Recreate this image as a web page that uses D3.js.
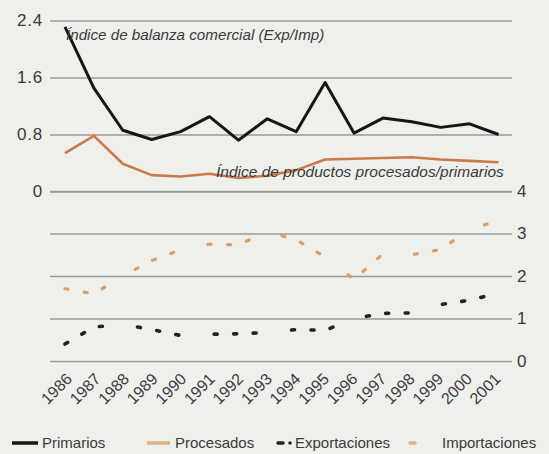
<!DOCTYPE html>
<html><head><meta charset="utf-8">
<script src="https://cdn.jsdelivr.net/npm/d3@7/dist/d3.min.js"></script>
<style>
html,body{margin:0;padding:0;background:#efefec;}
svg{display:block;font-family:"Liberation Sans",Arial,sans-serif;}
</style></head>
<body><svg id="c" width="549" height="454"></svg>
<script>
const years = [1986,1987,1988,1989,1990,1991,1992,1993,1994,1995,1996,1997,1998,1999,2000,2001];
const primarios = [2.31,1.45,0.86,0.73,0.84,1.05,0.72,1.02,0.84,1.53,0.82,1.03,0.98,0.90,0.95,0.80];
const procesados = [0.54,0.78,0.39,0.23,0.21,0.25,0.19,0.22,0.30,0.45,0.46,0.47,0.48,0.45,0.43,0.41];
const exportaciones = [0.40,0.80,0.86,0.74,0.60,0.63,0.64,0.67,0.74,0.72,1.00,1.12,1.13,1.33,1.43,1.60];
const importaciones = [1.70,1.58,2.00,2.36,2.62,2.75,2.73,3.05,2.85,2.45,1.92,2.52,2.50,2.62,3.10,3.30];
const topTicks = [0,0.8,1.6,2.4];
const bottomTicks = [0,1,2,3,4];
const seriesNames = ["Primarios","Procesados","Exportaciones","Importaciones"];
const annotTop = "Índice de balanza comercial (Exp/Imp)";
const annotMid = "Índice de productos procesados/primarios";

const svg = d3.select("#c");
const L = 50, R = 512;
const x = d3.scalePoint(years, [65, 498.5]);
const xl = d3.scalePoint(years, [72.5, 501]);
const yTop = d3.scaleLinear([0, 2.4], [191.5, 20.5]);
const yBot = d3.scaleLinear([0, 4], [361, 191]);
const grid = "#9a9a98", txt = "#3a3a3a";

// left axis + gridlines
const ga = svg.append("g").attr("transform", `translate(${L},0)`)
  .call(d3.axisLeft(yTop).tickValues(topTicks).tickSizeInner(-(R-L)).tickSizeOuter(0).tickPadding(7).tickFormat(d=>d===0?"0":d3.format(".1f")(d)));
ga.select(".domain").remove();
ga.selectAll("line").attr("stroke", grid).attr("stroke-width", 1.4);
ga.selectAll("text").attr("font-size", 17).attr("fill", txt).attr("letter-spacing", 0.8).attr("font-family","Liberation Sans, Arial");

// right axis + gridlines
const gb = svg.append("g").attr("transform", `translate(${R},0)`)
  .call(d3.axisRight(yBot).tickValues(bottomTicks).tickSizeInner(-(R-L)).tickSizeOuter(0).tickPadding(5).tickFormat(d3.format("d")));
gb.select(".domain").remove();
gb.selectAll("line").attr("stroke", grid).attr("stroke-width", 1.4);
gb.selectAll("text").attr("font-size", 17).attr("fill", txt).attr("font-family","Liberation Sans, Arial");

// x labels
const gx = svg.append("g").attr("transform", "translate(0,380)")
  .call(d3.axisBottom(xl).tickSize(0).tickFormat(d3.format("d")));
gx.select(".domain").remove();
gx.selectAll("text").attr("font-size", 16).attr("fill", txt)
  .attr("text-anchor", "end").attr("x", 0).attr("y", 0).attr("dy", 0)
  .attr("transform", "rotate(-45)");

// lines
const lineTop = d3.line().x((d,i)=>x(years[i])).y(d=>yTop(d));
const lineBot = d3.line().x((d,i)=>x(years[i])).y(d=>yBot(d));
const dash = "3,16.5,3,16.5,3,35.5";
svg.append("path").datum(procesados).attr("d", lineTop).attr("fill","none")
  .attr("stroke","#c97a4c").attr("stroke-width",2.6).attr("stroke-linejoin","round");
svg.append("path").datum(primarios).attr("d", lineTop).attr("fill","none")
  .attr("stroke","#161616").attr("stroke-width",3).attr("stroke-linejoin","round");
svg.append("path").datum(importaciones).attr("d", lineBot).attr("fill","none")
  .attr("stroke","#d6a06c").attr("stroke-width",3.2).attr("stroke-linecap","round")
  .attr("stroke-dasharray", dash);
svg.append("path").datum(exportaciones).attr("d", lineBot).attr("fill","none")
  .attr("stroke","#222").attr("stroke-width",3.6).attr("stroke-linecap","round")
  .attr("stroke-dasharray", dash);

// annotations
svg.append("text").attr("x", 66).attr("y", 40).attr("font-size", 15.2).attr("font-style","italic")
  .attr("fill", txt).text(annotTop);
svg.append("text").attr("x", 216).attr("y", 177).attr("font-size", 15.5).attr("font-style","italic")
  .attr("fill", txt).text(annotMid);

// legend
const ly = 443;
const lg = svg.append("g");
lg.append("line").attr("x1",12).attr("x2",38).attr("y1",ly).attr("y2",ly).attr("stroke","#161616").attr("stroke-width",3.5);
lg.append("line").attr("x1",147).attr("x2",170).attr("y1",ly).attr("y2",ly).attr("stroke","#dcb28a").attr("stroke-width",3.5);
lg.append("line").attr("x1",278).attr("x2",283).attr("y1",ly).attr("y2",ly).attr("stroke","#222").attr("stroke-width",3.5).attr("stroke-linecap","round");
lg.append("circle").attr("cx",290).attr("cy",ly).attr("r",1.8).attr("fill","#222");
lg.append("line").attr("x1",410).attr("x2",415).attr("y1",ly).attr("y2",ly).attr("stroke","#dcb28a").attr("stroke-width",3.5).attr("stroke-linecap","round");
const lx = [42,175,295,442];
seriesNames.forEach((n,i)=>{
  lg.append("text").attr("x", lx[i]).attr("y", 448).attr("font-size",15).attr("fill",txt).text(n);
});
</script></body></html>
